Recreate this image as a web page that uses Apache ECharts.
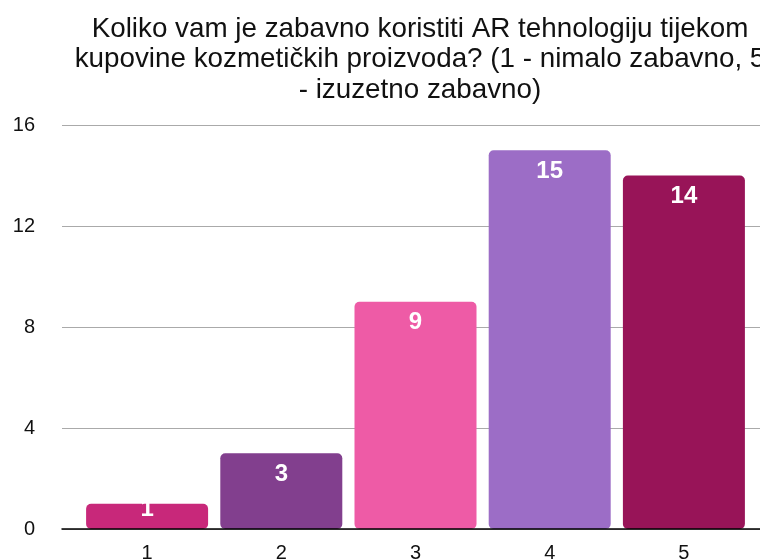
<!DOCTYPE html>
<html><head><meta charset="utf-8">
<script src="https://cdn.jsdelivr.net/npm/echarts@6/dist/echarts.min.js"></script>
<style>html,body{margin:0;padding:0;background:#fff}#c{width:760px;height:559px}</style>
</head><body><div id="c"></div>
<script>
const titleText = 'Koliko vam je zabavno koristiti AR tehnologiju tijekom\nkupovine kozmetičkih proizvoda? (1 - nimalo zabavno, 5\n- izuzetno zabavno)';
const categories = ['1', '2', '3', '4', '5'];
const values = [1, 3, 9, 15, 14];
const barColors = ['#C8287A', '#823F8E', '#EE5BA6', '#9C6DC6', '#981458'];
const yMin = 0, yMax = 16, yStep = 4;

const font = '"Liberation Sans", Arial, Helvetica, sans-serif';
const chart = echarts.init(document.getElementById('c'), null, {renderer: 'canvas'});
const data = values.map((v, i) => {
  const d = {value: v, itemStyle: {color: barColors[i]}};
  if (v < 2) d.label = {position: 'inside', offset: [0, -7]};
  return d;
});
chart.setOption({
  backgroundColor: '#fff',
  animation: false,
  title: {
    text: titleText, left: 415, top: 9, textAlign: 'center',
    textStyle: {fontFamily: font, fontSize: 27.8, fontWeight: 'normal', color: '#111', lineHeight: 30.5}
  },
  grid: [
    {left: 62, right: 0, top: 125, bottom: 30, outerBoundsMode: 'none', containLabel: false},
    {left: 80, right: 9, top: 125, bottom: 30, outerBoundsMode: 'none', containLabel: false}
  ],
  xAxis: [
    {type: 'category', gridIndex: 0, data: categories, z: 5,
     axisLine: {lineStyle: {color: '#000', width: 1.5}}, axisTick: {show: false}, axisLabel: {show: false}},
    {type: 'category', gridIndex: 1, data: categories,
     axisLine: {show: false}, axisTick: {show: false},
     axisLabel: {fontFamily: font, fontSize: 20, color: '#111', margin: 14}}
  ],
  yAxis: [
    {type: 'value', gridIndex: 0, min: yMin, max: yMax, interval: yStep,
     axisLine: {show: false}, axisTick: {show: false},
     axisLabel: {fontFamily: font, fontSize: 20, color: '#111', margin: 27},
     splitLine: {lineStyle: {color: '#aaaaaa', width: 1}}},
    {type: 'value', gridIndex: 1, min: yMin, max: yMax, interval: yStep, show: false}
  ],
  series: [{
    type: 'bar', xAxisIndex: 1, yAxisIndex: 1, data: data, barWidth: 122,
    itemStyle: {borderRadius: 5},
    label: {show: true, position: 'insideTop', distance: 9, color: '#fff',
            fontFamily: font, fontSize: 24, fontWeight: 'bold'}
  }]
});
</script></body></html>
